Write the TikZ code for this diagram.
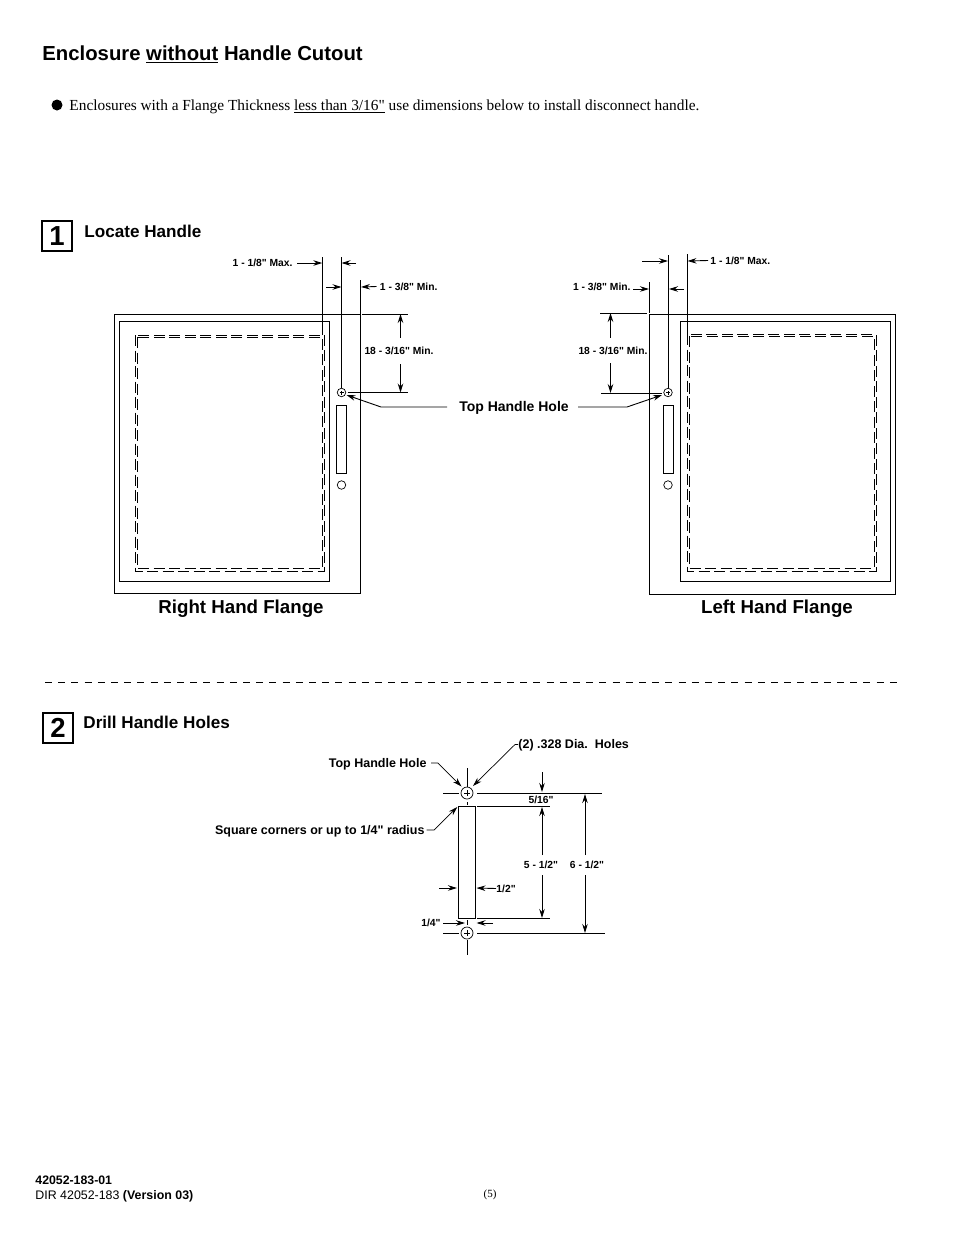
\documentclass[tikz,border=0pt]{standalone}
\usepackage{fontspec}
\setmainfont{Liberation Sans}[Ligatures=TeXOff]
\newfontfamily\serifface{Liberation Serif}
\usetikzlibrary{arrows.meta}

\tikzset{
  maintitle/.style={anchor=west,inner sep=0pt,font=\fontsize{20.3}{24}\selectfont\bfseries},
  flange/.style={inner sep=0pt,font=\fontsize{18.7}{22}\selectfont\bfseries},
  heading/.style={anchor=west,inner sep=0pt,font=\fontsize{17.1}{20}\selectfont\bfseries},
  dimtext/.style={inner sep=0pt,font=\fontsize{10.3}{12}\selectfont\bfseries},
  callout/.style={inner sep=0pt,font=\fontsize{14}{16}\selectfont\bfseries},
  leadtext/.style={inner sep=0pt,font=\fontsize{12.5}{15}\selectfont\bfseries},
  stepbox/.style={draw,line width=2pt,minimum size=30pt,inner sep=0pt,font=\fontsize{27.5}{30}\selectfont\bfseries},
  hole/.style={circle,draw,minimum size=8.5pt,inner sep=0pt,line width=.7pt},
  crosshole/.style={hole,path picture={\draw[line width=.7pt] (path picture bounding box.center) +(-#1,0) -- +(#1,0) +(0,-#1) -- +(0,#1);}},
  slot/.style={draw,line width=.9pt},
  longdash/.style={line width=.9pt,dash pattern=on 11pt off 4.5pt},
  shortdash/.style={line width=.9pt,dash pattern=on 7pt off 6.2pt},
}

\begin{document}
\begin{tikzpicture}[x=1pt,y=-1pt,line width=.9pt,>={Stealth[length=9pt,width=5.5pt]}]
    \useasboundingbox (0,0) rectangle (954,1235);

    % headings
    \node[maintitle] (head)  at (42,54)    {Enclosure \underline{without} Handle Cutout};
    \node[circle,fill,minimum size=11pt,inner sep=0pt] (dot) at (57,105) {};
    \node[anchor=west,inner sep=0pt,font=\serifface\fontsize{15.35}{18}\selectfont] (note) at (69,107)
        {Enclosures with a Flange Thickness \underline{less than 3/16"} use dimensions below to install disconnect handle.};
    \node[stepbox] (one)   at (57,236.3) {1};
    \node[heading] (locate) at (84,231.5)  {Locate Handle};
    \node[stepbox] (two)   at (58,728)   {2};
    \node[heading] (drill) at (83,722.5) {Drill Handle Holes};

    % right hand flange
    \draw (114,314) rectangle (360.5,593);
    \draw (119,321) rectangle (329,581);
    \draw[longdash] (135,335) rectangle (324.5,571);
    \draw[longdash] (137,337) rectangle (322.3,568.5);
    \node[crosshole=2pt] (rhole) at (341.5,392.5) {};
    \node[hole]          (rlow)  at (341.5,485)   {};
    \draw[slot] (336.5,405) rectangle (346.5,473);
    \node[flange] (rname) at (241,609) {Right Hand Flange};

    % left hand flange
    \draw (649.5,314) rectangle (895.5,594);
    \draw (680.5,321) rectangle (890,581);
    \draw[longdash] (687.5,334) rectangle (876,571);
    \draw[longdash] (689.5,336) rectangle (874,568.5);
    \node[crosshole=2pt] (lhole) at (668,392.5) {};
    \node[hole]          (llow)  at (668,485)   {};
    \draw[slot] (663.5,405) rectangle (673.5,473);
    \node[flange] (lname) at (777,609) {Left Hand Flange};

    % labels
    \node[dimtext,anchor=east] (rmax) at (293,263) {1 - 1/8" Max.};
    \node[dimtext,anchor=west] (rmin) at (379.5,286.5) {1 - 3/8" Min.};
    \node[dimtext]             (rgap) at (399,351) {18 - 3/16" Min.};
    \node[dimtext,anchor=west] (lmax) at (710,260.5) {1 - 1/8" Max.};
    \node[dimtext,anchor=east] (lmin) at (631,286.5) {1 - 3/8" Min.};
    \node[dimtext]             (lgap) at (613,351) {18 - 3/16" Min.};
    \node[callout] (top) at (514,408) {Top Handle Hole};

    % extension lines, right hand
    \coordinate (ra) at (322.3,257);  \coordinate (rb) at (322.3,335);
    \coordinate (rc) at (341.5,257);
    \coordinate (rd) at (360.5,280);  \coordinate (re) at (360.5,314);
    \coordinate (rf) at (362,314);    \coordinate (rg) at (408,314);
    \coordinate (rh) at (408,392.5);
    \draw (ra) -- (rb);
    \draw (rc) -- (rhole);
    \draw (rd) -- (re);
    \draw (rf) -- (rg);
    \draw (rhole) ++(6,0) -- (rh);

    % arrows, right hand
    \coordinate (r0) at (297,263);
    \coordinate (r1) at (322.3,263); \coordinate (r2) at (341.5,263); \coordinate (r3) at (356,263);
    \coordinate (r4) at (326,287);   \coordinate (r5) at (341.5,287);
    \coordinate (r6) at (361,287);
    \coordinate (r7) at (400.5,314); \coordinate (r8) at (400.5,392.5);
    \coordinate (rj) at (447,407);
    \coordinate (rk) at (381,407);   \coordinate (rm) at (346.5,395);
    \path[->] (r0)        edge (r1)
              (r3)        edge (r2)
              (r4)        edge (r5)
              (rmin.west) ++(-3,0) edge (r6)
              (rgap.north -| r7) ++(0,-9) edge (r7)
              (rgap.south -| r8) ++(0,9)  edge (r8);
    \draw[->] (rj) -- (rk) -- (rm);

    % extension lines, left hand
    \coordinate (la) at (687.5,254);  \coordinate (lb) at (687.5,334);
    \coordinate (lc) at (668,255);
    \coordinate (ld) at (649.5,282);  \coordinate (le) at (649.5,313);
    \coordinate (lf) at (600,313);    \coordinate (lg) at (647,313);
    \coordinate (lh) at (601,393);    \coordinate (li) at (662,393);
    \draw (la) -- (lb);
    \draw (lc) -- (lhole);
    \draw (ld) -- (le);
    \draw (lf) -- (lg);
    \draw (lh) -- (li);

    % arrows, left hand
    \coordinate (l0) at (633,289);
    \coordinate (l1) at (642,261);   \coordinate (l2) at (668,261);
    \coordinate (l3) at (687.5,261);
    \coordinate (l4) at (649,289);   \coordinate (l5) at (684,289);   \coordinate (l6) at (669,289);
    \coordinate (l7) at (610.5,313); \coordinate (l8) at (610.5,393);
    \coordinate (lj) at (578,407);
    \coordinate (lk) at (627,407);   \coordinate (lm) at (662,395);
    \path[->] (l1)        edge (l2)
              (lmax.west) ++(-2,0) edge (l3)
              (l0)        edge (l4)
              (l5)        edge (l6)
              (lgap.north -| l7) ++(0,-9) edge (l7)
              (lgap.south -| l8) ++(0,8)  edge (l8);
    \draw[->] (lj) -- (lk) -- (lm);

    % divider
    \coordinate (cuta) at (45,682);
    \coordinate (cutb) at (901,682);
    \draw[shortdash] (cuta) -- (cutb);

    % drill holes
    \node[crosshole=3pt,minimum size=12pt] (htop) at (467,793) {};
    \node[crosshole=3pt,minimum size=12pt] (hlow) at (467,933) {};
    \draw[slot] (458,806) rectangle (475.5,918);

    \node[leadtext,anchor=west] (dia)     at (518,745.5) {(2) .328 Dia.\ \ Holes};
    \node[leadtext,anchor=east] (tophole) at (427,764.5) {Top Handle Hole};
    \node[leadtext,anchor=east] (corners) at (425,831.5) {Square corners or up to 1/4" radius};
    \node[dimtext] (quart)  at (541,799.5) {5/16"};
    \node[dimtext] (slotl)  at (541,865)   {5 - 1/2"};
    \node[dimtext] (pitch)  at (587,865)   {6 - 1/2"};
    \node[dimtext,anchor=west] (half)  at (496,888.5) {1/2"};
    \node[dimtext,anchor=east] (wide)  at (441,922.5) {1/4"};

    % center and extension lines
    \coordinate (c1) at (467,768);  \coordinate (c2) at (467,787);
    \coordinate (c3) at (467,802);  \coordinate (c4) at (467,805);
    \coordinate (c5) at (467,920);  \coordinate (c6) at (467,925);
    \coordinate (c7) at (467,940);  \coordinate (c8) at (467,955);
    \coordinate (c9) at (443,793);  \coordinate (c10) at (459,793);  \coordinate (c11) at (477,793);  \coordinate (c12) at (602,793);
    \coordinate (c13) at (443,933); \coordinate (c14) at (459,933);  \coordinate (c15) at (477,933);  \coordinate (c16) at (605,933);
    \coordinate (c17) at (477,806); \coordinate (c18) at (550,806);
    \coordinate (c19) at (477,918); \coordinate (c20) at (550,918);
    \draw (c1) -- (c2);   \draw (c3) -- (c4);   \draw (c5) -- (c6);   \draw (c7) -- (c8);
    \draw (c9) -- (c10);  \draw (c11) -- (c12); \draw (c13) -- (c14); \draw (c15) -- (c16);
    \draw (c17) -- (c18); \draw (c19) -- (c20);

    % arrows, drill
    \coordinate (d1) at (542,772);   \coordinate (d2) at (542,792);
    \coordinate (d3) at (542,855);   \coordinate (d4) at (542,807);
    \coordinate (d5) at (542,875);   \coordinate (d6) at (542,918);
    \coordinate (d7) at (585,855);   \coordinate (d8) at (585,794);
    \coordinate (d9) at (585,875);   \coordinate (d10) at (585,933);
    \coordinate (d11) at (439,888);  \coordinate (d12) at (457,888);
    \coordinate (d13) at (476.5,888);
    \coordinate (d14) at (443,923);  \coordinate (d15) at (465,923);
    \coordinate (d16) at (493,923);  \coordinate (d17) at (476.5,923);
    \coordinate (d18) at (515,744.5);  \coordinate (d19) at (473,786);
    \coordinate (d20) at (431,763);  \coordinate (d21) at (438,763);  \coordinate (d24) at (461.5,786.5);
    \coordinate (d25) at (426.5,830);
    \coordinate (d22) at (434,830);  \coordinate (d23) at (457.3,807);
    \path[->] (d1)  edge (d2)
              (d3)  edge (d4)
              (d5)  edge (d6)
              (d7)  edge (d8)
              (d9)  edge (d10)
              (d11) edge (d12)
              (half.west) edge (d13)
              (d14) edge (d15)
              (d16) edge (d17);
    \draw[->,line width=.7pt] (dia.west |- d18) -- (d18) -- (d19);
    \draw[->,line width=.7pt] (d20) -- (d21) -- (d24);
    \draw[->,line width=.7pt] (d25) -- (d22) -- (d23);

    % footer
    \node[anchor=west,inner sep=0pt,font=\fontsize{12.3}{14}\selectfont\bfseries] (part) at (35,1180.5) {42052-183-01};
    \node[anchor=west,inner sep=0pt,font=\fontsize{12.4}{14}\selectfont] (dir) at (35,1196.5) {DIR 42052-183 \textbf{(Version 03)}};
    \node[inner sep=0pt,font=\serifface\fontsize{11}{13}\selectfont] (page) at (490,1195) {(5)};
\end{tikzpicture}
\end{document}
